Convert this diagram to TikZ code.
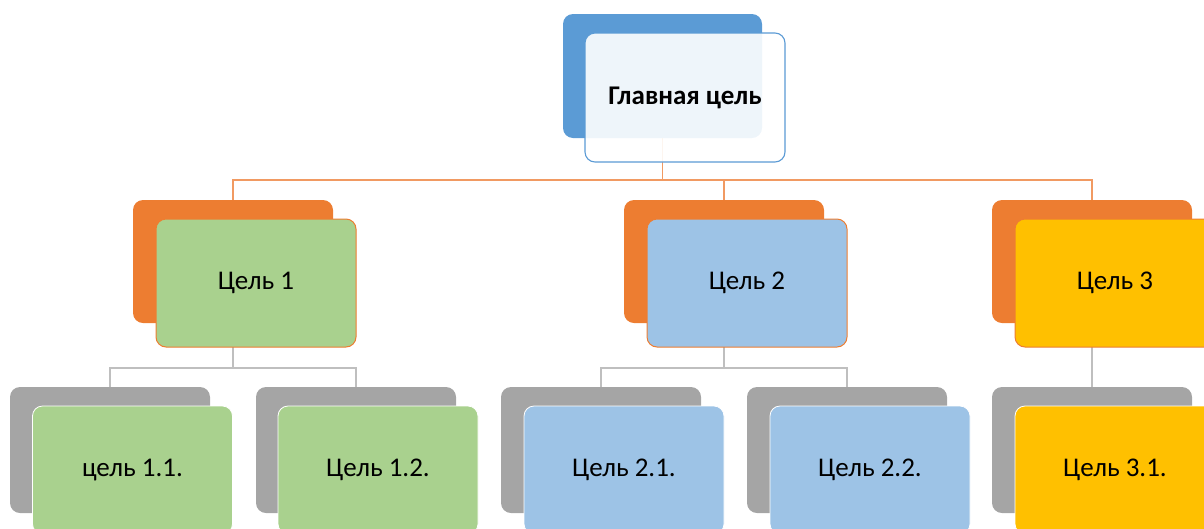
\documentclass[tikz,border=0pt]{standalone}
\usepackage{fontspec}
\setmainfont{Carlito}
\usetikzlibrary{backgrounds}

\definecolor{topblue}{HTML}{5B9BD5}
\definecolor{goalorange}{HTML}{ED7D31}
\definecolor{linkorange}{HTML}{F19A62}
\definecolor{goalgreen}{HTML}{A9D18E}
\definecolor{goallight}{HTML}{9DC3E6}
\definecolor{goalyellow}{HTML}{FFC000}
\definecolor{goalgray}{HTML}{A5A5A5}
\definecolor{linkgray}{HTML}{BFBFBF}

\tikzset{
	card/.style={rounded corners=10pt, minimum width=200pt, minimum height=126pt, inner sep=0pt},
	backcard/.style={card, fill=#1},
	frontcard/.style={card, fill=#1, font=\fontsize{27}{32}\selectfont},
	midcard/.style={frontcard=#1, draw=goalorange, line width=1pt},
	lowcard/.style={frontcard=#1, draw=white, line width=0.8pt},
}

\begin{document}
\begin{tikzpicture}[x=1pt, y=-1pt]
	\useasboundingbox (0,0) rectangle (1204,528);
	\clip (0,0) rectangle (1204,528);

	% main goal
	\node[backcard=topblue, minimum width=199pt, minimum height=124pt] (topB) at (662.5,76) {};
	\node[card, fill=white, fill opacity=0.9, text opacity=1, draw=topblue, line width=1.1pt,
		minimum height=129pt, font=\fontsize{27}{32}\selectfont\bfseries] (top) at (685,97.5) {Главная цель};

	% goals
	\node[backcard=goalorange, minimum height=123pt] (g1B) at (233,261.5) {};
	\node[midcard=goalgreen, minimum height=128pt] (g1) at (256,283) {Цель 1};
	\node[backcard=goalorange, minimum height=123pt] (g2B) at (724,261.5) {};
	\node[midcard=goallight, minimum height=128pt] (g2) at (747,283) {Цель 2};
	\node[backcard=goalorange, minimum height=123pt] (g3B) at (1092,261.5) {};
	\node[midcard=goalyellow, minimum height=128pt] (g3) at (1115,283) {Цель 3};

	% sub-goals
	\node[backcard=goalgray] (g11B) at (110,450) {};
	\node[lowcard=goalgreen, minimum height=128pt] (g11) at (132.5,470) {цель 1.1.};
	\node[backcard=goalgray] (g12B) at (356,450) {};
	\node[lowcard=goalgreen, minimum height=128pt] (g12) at (378,470) {Цель 1.2.};
	\node[backcard=goalgray] (g21B) at (601,450) {};
	\node[lowcard=goallight, minimum height=128pt] (g21) at (624,470) {Цель 2.1.};
	\node[backcard=goalgray] (g22B) at (847,450) {};
	\node[lowcard=goallight, minimum height=128pt] (g22) at (870,470) {Цель 2.2.};
	\node[backcard=goalgray] (g31B) at (1092,450) {};
	\node[lowcard=goalyellow, minimum height=128pt] (g31) at (1115,470) {Цель 3.1.};

	\coordinate (busA) at (0,180);
	\coordinate (busB) at (0,368);

	\begin{pgfonlayer}{background}
		\draw[linkorange, line width=1.2pt] (topB.south) -- (topB.south |- busA) -| (g1B.north);
		\draw[linkorange, line width=1.2pt] (topB.south |- busA) -| (g2B.north);
		\draw[linkorange, line width=1.2pt] (topB.south |- busA) -| (g3B.north);

		\draw[linkgray, line width=1.2pt] (g1B.south) -- (g1B.south |- busB) -| (g11B.north);
		\draw[linkgray, line width=1.2pt] (g1B.south |- busB) -| (g12B.north);
		\draw[linkgray, line width=1.2pt] (g2B.south) -- (g2B.south |- busB) -| (g21B.north);
		\draw[linkgray, line width=1.2pt] (g2B.south |- busB) -| (g22B.north);
		\draw[linkgray, line width=1.2pt] (g3B.south) -- (g31B.north);
	\end{pgfonlayer}
\end{tikzpicture}
\end{document}
